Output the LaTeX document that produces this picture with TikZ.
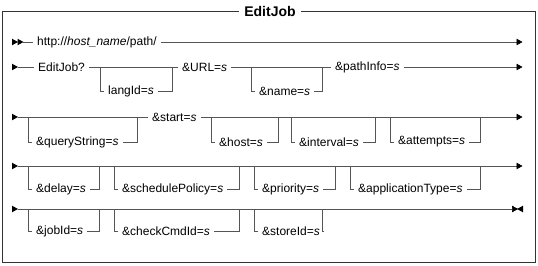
\documentclass[tikz,border=0pt]{standalone}
\usepackage{fontspec}
\setmainfont{Liberation Sans}
\usetikzlibrary{arrows.meta,positioning}
\definecolor{railgray}{HTML}{555555}
\definecolor{framegray}{HTML}{333333}

\begin{document}
\begin{tikzpicture}[x=1pt,y=-1pt,
      rail/.style={draw=railgray,line width=0.7pt},
      tip/.style={-{Triangle[length=6pt,width=6.5pt,color=black]},shorten >=-0.5pt},
      lbl/.style={anchor=west,inner sep=4pt,font=\fontsize{12}{14}\selectfont},
      ttl/.style={fill=white,inner sep=5pt,font=\fontsize{14}{16}\selectfont\bfseries},
      railtip/.pic={\fill[black] (0,-3.3) -- (6,0) -- (0,3.3) -- cycle;}
    ]
    \useasboundingbox (0,0) rectangle (538,265);
    \draw[framegray,line width=0.8pt] (2.5,11) rectangle (535.5,262.5);
    \node[ttl] (title) at (270,11) {EditJob};
    % row ends
    \coordinate (s1) at (12,42);  \coordinate (s1a) at (17.5,42); \coordinate (s1b) at (23,42);
    \coordinate (e1) at (522,42);
    \coordinate (s2) at (12,67);  \coordinate (s2a) at (17.5,67); \coordinate (e2) at (522,67);
    \coordinate (s3) at (12,117); \coordinate (s3a) at (17.5,117); \coordinate (e3) at (522,117);
    \coordinate (s4) at (12,166); \coordinate (s4a) at (17.5,166); \coordinate (e4) at (522,166);
    \coordinate (s5) at (12,209); \coordinate (s5a) at (17.5,209);
    \coordinate (e5a) at (517.5,209); \coordinate (e5) at (523,209);
    \pic at (s1) {railtip}; \pic at (s1a) {railtip};
    \pic at (s2) {railtip}; \pic at (s3) {railtip};
    \pic at (s4) {railtip}; \pic at (s5) {railtip};
    \pic[xscale=-1] at (e5) {railtip};
    % required parts
    \node[lbl] (url) at (33,42) {http://\textit{host\_name}/path/};
    \node[lbl] (editjob) at (34,67) {EditJob?};
    \node[lbl] (urlparm) at (178,67) {\&URL=\textit{s}};
    \node[lbl] (pathinfo) at (331,67) {\&pathInfo=\textit{s}};
    \node[lbl] (start) at (148,117) {\&start=\textit{s}};
    \draw[rail] (s1b) -- (url.west);
    \draw[rail,tip] (url.east) -- (e1);
    \draw[rail] (s2a) -- (editjob.west);
    \draw[rail] (editjob.east) -- (urlparm.west);
    \draw[rail] (urlparm.east) -- (pathinfo.west);
    \draw[rail,tip] (pathinfo.east) -- (e2);
    \draw[rail] (s3a) -- (start.west);
    \draw[rail,tip] (start.east) -- (e3);
    \draw[rail,tip] (s4a) -- (e4);
    \draw[rail,tip] (s5a) -- (e5a);
    % optional parts
    \foreach \nm/\xa/\xc/\ym/\yb/\txt in {
        langid/100/172/67/91/{langId=\textit{s}},
        name/251/322/67/91/{\&name=\textit{s}},
        querystring/28/137/117/142/{\&queryString=\textit{s}},
        host/211/278/117/142/{\&host=\textit{s}},
        interval/291/375/117/142/{\&interval=\textit{s}},
        attempts/390/480/117/142/{\&attempts=\textit{s}},
        delay/28/99/166/189/{\&delay=\textit{s}},
        schedule/114/239/166/189/{\&schedulePolicy=\textit{s}},
        priority/254/335/166/189/{\&priority=\textit{s}},
        apptype/350/480/166/189/{\&applicationType=\textit{s}},
        jobid/28/99/209/231/{\&jobId=\textit{s}},
        checkcmd/114/239/209/231/{\&checkCmdId=\textit{s}},
        storeid/254/322/209/231/{\&storeId=\textit{s}}}{
      \coordinate (\nm-in) at (\xa,\ym);
      \coordinate (\nm-out) at (\xc,\ym);
      \node[lbl] (\nm) at (\xa+4,\yb) {\txt};
      \draw[rail] (\nm-in) |- (\nm.west);
      \draw[rail] (\nm.east) -| (\nm-out);
    }
  \end{tikzpicture}
\end{document}
